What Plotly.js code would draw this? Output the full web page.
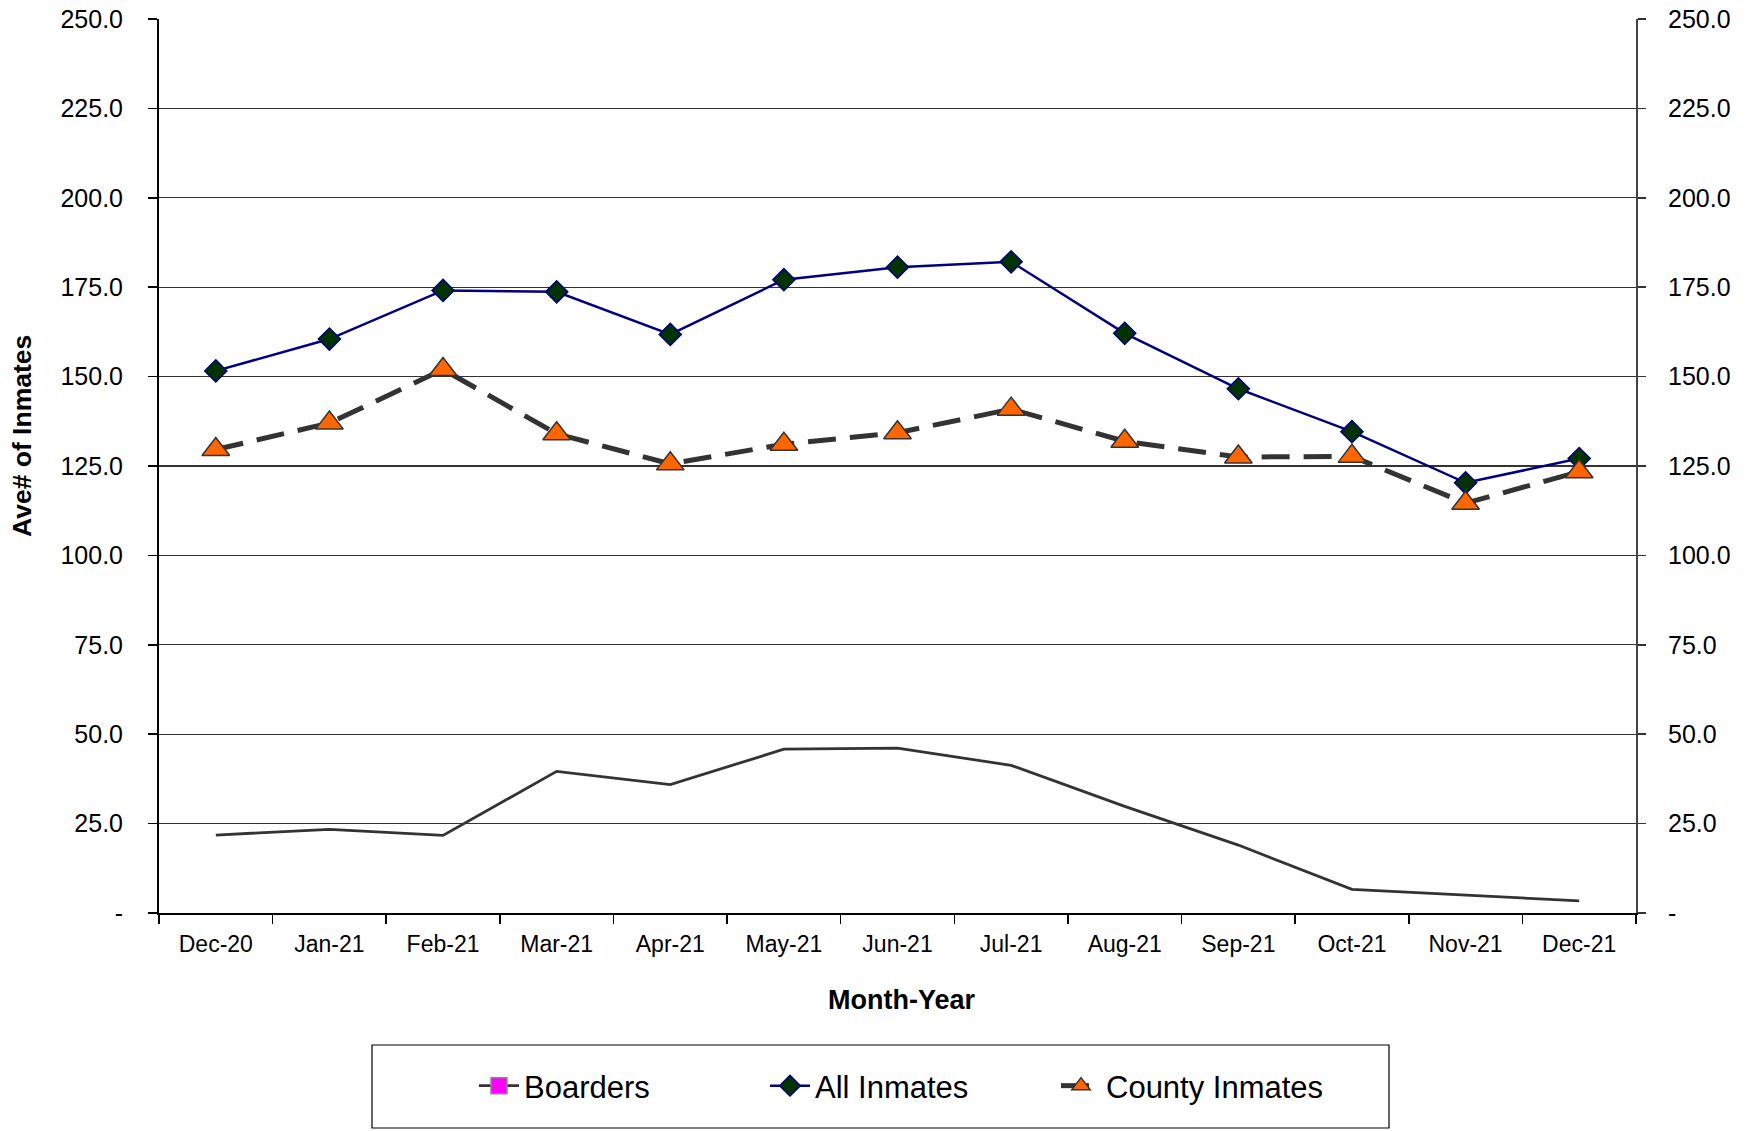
<!DOCTYPE html>
<html>
<head>
<meta charset="utf-8">
<script src="https://cdn.plot.ly/plotly-3.0.1.min.js"></script>
<style>html,body{margin:0;padding:0;background:#fff;}#chart{width:1752px;height:1131px;}</style>
</head>
<body>
<div id="chart"></div>
<script>
const months = ["Dec-20","Jan-21","Feb-21","Mar-21","Apr-21","May-21","Jun-21","Jul-21","Aug-21","Sep-21","Oct-21","Nov-21","Dec-21"];
const boarders = [21.8, 23.4, 21.7, 39.6, 35.9, 45.8, 46.1, 41.3, 29.8, 19.0, 6.6, 5.0, 3.4];
const allInmates = [151.6, 160.5, 174.1, 173.7, 161.8, 177.1, 180.6, 182.1, 162.1, 146.6, 134.6, 120.3, 127.1];
const countyInmates = [129.6, 137.0, 152.0, 134.0, 125.6, 131.1, 134.3, 140.9, 131.9, 127.5, 127.7, 114.6, 123.4];
const yTickVals = [0, 25, 50, 75, 100, 125, 150, 175, 200, 225, 250];
const yTickText = ["-", "25.0", "50.0", "75.0", "100.0", "125.0", "150.0", "175.0", "200.0", "225.0", "250.0"];

const FONT = "Liberation Sans, Arial, sans-serif";

const traces = [
  {x: months, y: boarders, type: "scatter", mode: "lines", name: "Boarders", showlegend: false,
   line: {color: "#333333", width: 2.8}, hoverinfo: "skip"},
  {x: [null], y: [null], type: "scatter", mode: "lines+markers", name: "Boarders",
   line: {color: "#333333", width: 2.8},
   marker: {symbol: "square", color: "#FF00FF", size: 16, line: {color: "#888888", width: 1.5}}},
  {x: months, y: allInmates, type: "scatter", mode: "lines+markers", name: "All Inmates",
   line: {color: "#000080", width: 2.5},
   marker: {symbol: "diamond", color: "#003300", size: 17, line: {color: "#000080", width: 1.5}}},
  {x: months, y: countyInmates, type: "scatter", mode: "lines+markers", name: "County Inmates",
   line: {color: "#333333", width: 5, dash: "28px,14px"},
   marker: {symbol: "triangle-up", color: "#FF6600", size: 24, line: {color: "#333333", width: 1.5}}},
  {x: months, y: boarders, type: "scatter", mode: "lines", yaxis: "y2", showlegend: false,
   line: {color: "rgba(0,0,0,0)", width: 0}, hoverinfo: "skip"}
];

const L = 159, R = 1636, T = 19, B = 913;
const pw = R - L, ph = B - T;
const px = v => (v - L) / pw;
const py = v => (B - v) / ph;

const layout = {
  width: 1752, height: 1131,
  margin: {l: L, r: 1752 - R, t: T, b: 1131 - B, pad: 0},
  paper_bgcolor: "#ffffff", plot_bgcolor: "#ffffff",
  font: {family: FONT, color: "#000000"},
  showlegend: true,
  xaxis: {
    type: "category", categoryorder: "array", categoryarray: months,
    range: [-0.5, 12.5], tickson: "boundaries", ticks: "outside", ticklen: 9, tickwidth: 1.5, tickcolor: "#000",
    showline: true, linecolor: "#000", linewidth: 2, showgrid: false, zeroline: false,
    tickfont: {family: FONT, size: 23, color: "#000"}, ticklabelstandoff: 9,
    fixedrange: true
  },
  yaxis: {
    range: [0, 250], tickvals: yTickVals, ticktext: yTickText,
    ticks: "outside", ticklen: 9, tickwidth: 1.5, tickcolor: "#000",
    showline: true, linecolor: "#000", linewidth: 2,
    showgrid: true, gridcolor: "#333333", gridwidth: 1.2, zeroline: false,
    tickfont: {family: FONT, size: 25, color: "#000"}, ticklabelstandoff: 20,
    fixedrange: true
  },
  yaxis2: {
    overlaying: "y", side: "right", range: [0, 250], tickvals: yTickVals, ticktext: yTickText,
    ticks: "outside", ticklen: 8, tickwidth: 1.5, tickcolor: "#333",
    showline: true, linecolor: "#444", linewidth: 2, showgrid: false, zeroline: false,
    tickfont: {family: FONT, size: 25, color: "#000"}, ticklabelstandoff: 17,
    fixedrange: true
  },
  legend: {
    orientation: "h", x: px(474), xanchor: "left", y: py(1086), yanchor: "middle",
    font: {family: FONT, size: 31, color: "#000"}, bgcolor: "rgba(0,0,0,0)", borderwidth: 0,
    itemwidth: 40, entrywidth: 236, entrywidthmode: "pixels"
  },
  shapes: [
    {type: "rect", xref: "paper", yref: "paper", x0: px(372), x1: px(1389), y0: py(1045), y1: py(1128),
     line: {color: "#000", width: 1.2}, fillcolor: "rgba(0,0,0,0)"}
  ],
  annotations: [
    {text: "<b>Ave# of Inmates</b>", xref: "paper", yref: "paper", x: px(22), y: py(436), showarrow: false,
     textangle: -90, font: {family: FONT, size: 26.5, color: "#000"}, xanchor: "center", yanchor: "middle"},
    {text: "<b>Month-Year</b>", xref: "paper", yref: "paper", x: px(902), y: py(1000), showarrow: false,
     font: {family: FONT, size: 27, color: "#000"}, xanchor: "center", yanchor: "middle"}
  ]
};

Plotly.newPlot("chart", traces, layout, {staticPlot: true, displayModeBar: false});
</script>
</body>
</html>
